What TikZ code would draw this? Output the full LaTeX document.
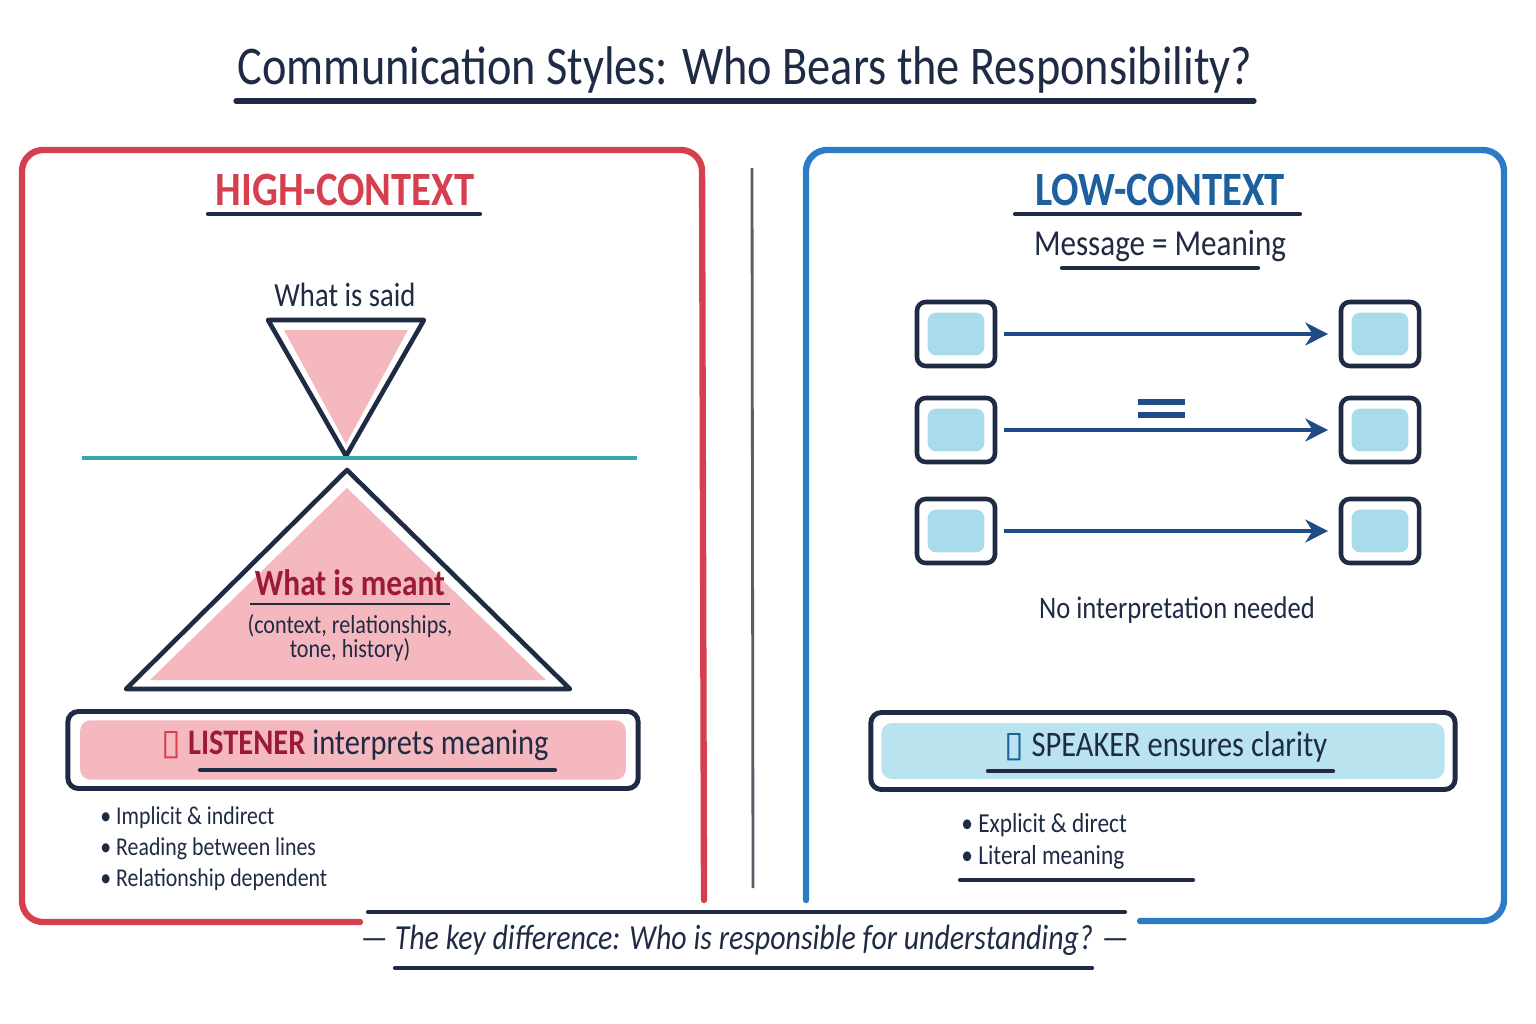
\documentclass[tikz,border=0pt]{standalone}
\usepackage{fontspec}
\setmainfont{Carlito}[FakeStretch=0.85]
\newfontfamily\symfont{DejaVu Sans}
\usetikzlibrary{arrows.meta,positioning}
\definecolor{inkcol}{HTML}{1F2B45}
\definecolor{redcol}{HTML}{D6404E}
\definecolor{winecol}{HTML}{9B1B35}
\definecolor{bluecol}{HTML}{2B7BC6}
\definecolor{bluetxt}{HTML}{1E5F9E}
\definecolor{pinkfill}{HTML}{F5B8BF}
\definecolor{skyfill}{HTML}{A8DCEA}
\definecolor{tealcol}{HTML}{3BA5AE}
\definecolor{arrowcol}{HTML}{1F4C86}
\newcommand{\fsz}[2]{\fontsize{#1}{#2}\selectfont}

\begin{document}
\begin{tikzpicture}[
  x=0.01cm, y=-0.01cm,
  ink/.style={text=inkcol},
  head/.style={font=\bfseries\fsz{13.6}{16}},
  uline/.style={draw=inkcol,line width=1.2pt,line cap=round},
  panel/.style={line width=1.8pt,rounded corners=6pt,line cap=round},
  tri/.style={draw=inkcol,line width=1.3pt,line join=round,fill=white},
  bullet/.style={ink,font=\fsz{7.8}{9},anchor=west},
  mbox/.style={draw=inkcol,line width=1.3pt,rounded corners=2.5pt,fill=white,
               minimum width=0.78cm,minimum height=0.64cm,inner sep=0pt,
               path picture={\fill[skyfill]
                 ([shift={(3pt,-3pt)}]path picture bounding box.north west) rectangle
                 ([shift={(-3pt,3pt)}]path picture bounding box.south east);}},
  banner/.style={draw=inkcol,line width=1.4pt,rounded corners=3pt,fill=white,
                 minimum height=0.77cm,inner sep=0pt},
  arr/.style={-{Stealth[length=6.5pt,width=6.5pt]},draw=arrowcol,line width=1.3pt,
              shorten <=2pt,shorten >=3pt},
]
\useasboundingbox[fill=white] (0,0) rectangle (1536,1024);

% title
\node[ink,font=\fsz{15.5}{18}] (title) at (745,70)
  {Communication Styles: Who Bears the Responsibility?};
\draw[uline,line width=1.5pt] (236,101) -- (1254,101);

% panels and divider
\draw[panel,draw=redcol] (360,922) -- (22,922) -- (22,150) -- (702,150) -- (704,900);
\draw[panel,draw=bluecol] (806,900) -- (806,150) -- (1504,150) -- (1504,921) -- (1140,921);
\draw[gray!60!inkcol,line width=0.8pt] (752,168) -- (753,888);

% high-context side
\node[head,text=redcol] (high) at (345,190) {HIGH-CONTEXT};
\draw[uline] (208,214) -- (480,214);
\node[ink,font=\fsz{9.6}{12}] (said) at (345,295) {What is said};
\draw[tri] (268,320) -- (424,320) -- (346,456) -- cycle;
\fill[pinkfill] (284,330) -- (408,330) -- (346,444) -- cycle;
\draw[tealcol,line width=1.3pt] (82,458) -- (637,458);
\draw[tri] (347,470) -- (570,689) -- (126,689) -- cycle;
\fill[pinkfill] (347,488) -- (546,680) -- (150,680) -- cycle;
\node[font=\bfseries\fsz{10.5}{12},text=winecol] (meant) at (350,583) {What is meant};
\draw[inkcol,line width=0.6pt] (250,604) -- (450,604);
\node[ink,font=\fsz{7.4}{7},align=center] (ctx) at (350,638)
  {(context, relationships,\\tone, history)};

\node[banner,minimum width=5.7cm,
      path picture={\fill[pinkfill]
        ([shift={(3.5pt,-2.5pt)}]path picture bounding box.north west) rectangle
        ([shift={(-3.5pt,2.5pt)}]path picture bounding box.south east);}]
  (listener) at (353,750) {};
\node[ink,font=\fsz{10.2}{12}] (listxt) at (355,745)
  {{\symfont\color{redcol}▯} \textcolor{winecol}{\bfseries LISTENER} interprets meaning};
\draw[uline] (200,770) -- (555,770);

\node[bullet,font=\fsz{7.3}{9}] (hb1) at (88,818) {\textbullet\ Implicit \& indirect};
\node[bullet,font=\fsz{7.3}{9}] (hb2) at (88,849) {\textbullet\ Reading between lines};
\node[bullet,font=\fsz{7.3}{9}] (hb3) at (88,880) {\textbullet\ Relationship dependent};

% low-context side
\node[head,text=bluetxt] (low) at (1160,190) {LOW-CONTEXT};
\draw[uline] (1015,214) -- (1300,214);
\node[ink,font=\fsz{10.4}{12}] (msg) at (1160,246) {Message = Meaning};
\draw[uline] (1062,268) -- (1258,268);

\foreach \r/\y in {1/334,2/430,3/531} {
  \node[mbox] (src\r) at (956,\y) {};
  \node[mbox] (dst\r) at (1380,\y) {};
  \draw[arr] (src\r) -- (dst\r);
}
\draw[arrowcol,line width=1.5pt] (1138,402) -- (1185,402);
\draw[arrowcol,line width=1.5pt] (1138,415) -- (1185,415);

\node[ink,font=\fsz{8.9}{11}] (noint) at (1177,610) {No interpretation needed};

\node[banner,minimum width=5.84cm,
      path picture={\fill[skyfill!80]
        ([shift={(3pt,-3pt)}]path picture bounding box.north west) rectangle
        ([shift={(-3pt,3pt)}]path picture bounding box.south east);}]
  (speaker) at (1163,751) {};
\node[ink,font=\fsz{10.2}{12}] (spktxt) at (1166,747)
  {{\symfont\color{bluetxt}▯} SPEAKER ensures clarity};
\draw[uline] (988,771) -- (1333,771);

\node[bullet] (lb1) at (949,825) {\textbullet\ Explicit \& direct};
\node[bullet] (lb2) at (949,857) {\textbullet\ Literal meaning};
\draw[uline] (960,880) -- (1193,880);

% footer
\draw[uline] (368,912) -- (1125,912);
\node[ink,font=\itshape\fsz{10}{12}] (footer) at (745,940)
  {— The key difference: Who is responsible for understanding? —};
\draw[uline] (395,968) -- (1092,968);
\end{tikzpicture}
\end{document}
